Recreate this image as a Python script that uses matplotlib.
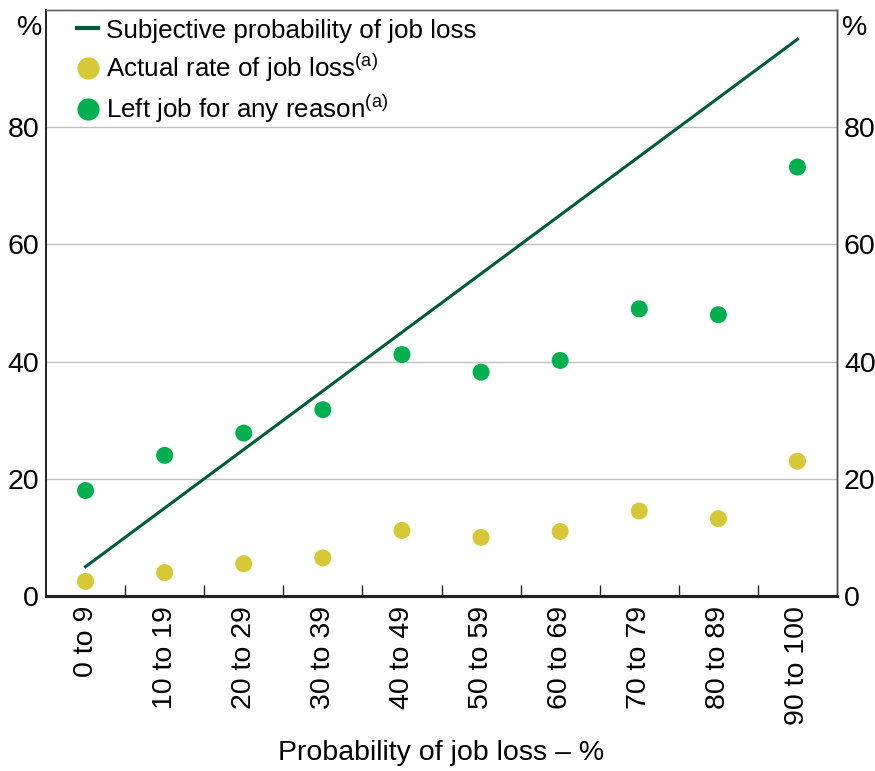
import matplotlib
matplotlib.use("Agg")
import matplotlib.pyplot as plt
from matplotlib.lines import Line2D

plt.rcParams['font.family'] = ['Liberation Sans', 'DejaVu Sans']

categories = ["0 to 9", "10 to 19", "20 to 29", "30 to 39", "40 to 49",
              "50 to 59", "60 to 69", "70 to 79", "80 to 89", "90 to 100"]
subjective = [5, 15, 25, 35, 45, 55, 65, 75, 85, 95]
actual_loss = [2.5, 4.0, 5.5, 6.5, 11.2, 10.0, 11.0, 14.5, 13.2, 23.0]
left_any = [18.0, 24.0, 27.8, 31.8, 41.2, 38.2, 40.2, 49.0, 48.0, 73.2]
yticks = [0, 20, 40, 60, 80]

LINE_C = "#005a3c"
YEL_C = "#d6c836"
GRN_C = "#00b04f"
FS = 20.5

fig = plt.figure(figsize=(8.75, 7.71), dpi=100)
ax = fig.add_axes([46/875, 1-596/771, (837-46)/875, (596-10)/771])
x = list(range(len(categories)))

ax.plot(x, subjective, color=LINE_C, lw=2.2, zorder=3)
ax.scatter(x, actual_loss, s=150, color=YEL_C, edgecolors='none', zorder=4)
ax.scatter(x, left_any, s=150, color=GRN_C, edgecolors='none', zorder=4)

ax.set_xlim(-0.5, len(categories)-0.5)
ax.set_ylim(0, 100)
ax.set_yticks(yticks)
ax.set_yticklabels([str(v) for v in yticks], fontsize=FS)
ax.yaxis.grid(True, color="#c0c0c0", lw=1)
ax.set_axisbelow(True)
ax.tick_params(axis='y', length=0, pad=5)

ax.set_xticks(x)
ax.set_xticklabels(categories, rotation=90, fontsize=FS)
ax.tick_params(axis='x', which='major', length=0, pad=7)
ax.set_xticks([i+0.5 for i in x[:-1]], minor=True)
ax.tick_params(axis='x', which='minor', direction='in', length=8, width=1, color='#222222')

ax2 = ax.twinx()
ax2.set_ylim(0, 100)
ax2.set_yticks(yticks)
ax2.set_yticklabels([str(v) for v in yticks], fontsize=FS)
ax2.tick_params(axis='y', length=0, pad=5)

for a in (ax, ax2):
    a.spines['left'].set_color('#222222')
    a.spines['left'].set_linewidth(1.2)
    a.spines['bottom'].set_color('#222222')
    a.spines['bottom'].set_linewidth(2.2)
    a.spines['right'].set_color('#444444')
    a.spines['right'].set_linewidth(1.0)
    a.spines['top'].set_color('#666666')
    a.spines['top'].set_linewidth(1.0)

fig.text(30/875, 1-28/771, "%", fontsize=FS, ha='center', va='center')
fig.text(855/875, 1-28/771, "%", fontsize=FS, ha='center', va='center')

ax.set_xlabel("Probability of job loss – %", fontsize=FS, labelpad=11)

handles = [
    Line2D([0], [0], color=LINE_C, lw=3),
    Line2D([0], [0], marker='o', color='none', markerfacecolor=YEL_C, markeredgecolor='none', markersize=16),
    Line2D([0], [0], marker='o', color='none', markerfacecolor=GRN_C, markeredgecolor='none', markersize=16),
]
labels = ["Subjective probability of job loss",
          "Actual rate of job loss$^{\\mathregular{(a)}}$",
          "Left job for any reason$^{\\mathregular{(a)}}$"]
ax.legend(handles, labels, loc='upper left', bbox_to_anchor=(0.02, 1.012), frameon=False,
          fontsize=18.7, handlelength=0.8, handletextpad=0.3, labelspacing=0.32, borderaxespad=0.2)

fig.savefig("out.png", dpi=100)
